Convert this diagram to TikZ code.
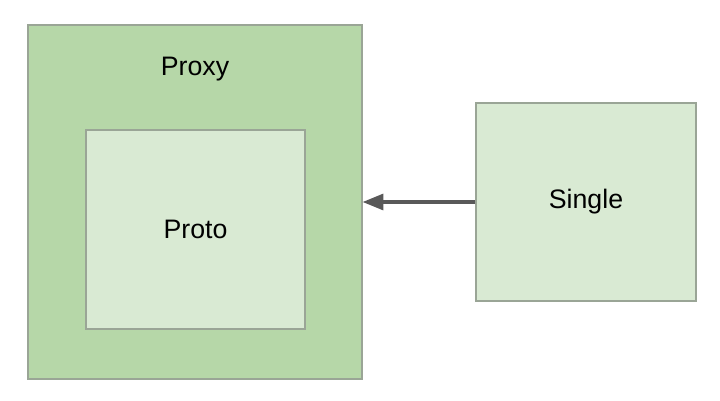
\documentclass[tikz,border=0pt]{standalone}
\usepackage{fontspec}
\setmainfont{Liberation Sans}
\usetikzlibrary{arrows.meta}
\definecolor{darkgreen}{HTML}{B6D7A8}
\definecolor{lightgreen}{HTML}{D9EAD3}
\definecolor{edgegray}{HTML}{9AA596}
\definecolor{arrowgray}{HTML}{595959}
\tikzset{
    box/.style = {draw = edgegray, line width = 0.8pt, inner sep = 0pt, font = \fontsize{19}{21}\selectfont},
    proxybox/.style = {box, fill = darkgreen, minimum width = 8.35cm, minimum height = 8.85cm},
    protobox/.style = {box, fill = lightgreen, minimum width = 5.475cm, minimum height = 4.975cm},
    singlebox/.style = {box, fill = lightgreen, minimum width = 5.5cm, minimum height = 4.95cm},
    link/.style = {draw = arrowgray, line width = 2.2pt, -{Triangle[length = 5.2mm, width = 4mm]}}
}
\begin{document}
\begin{tikzpicture}[x = 0.025cm, y = -0.025cm]
    \useasboundingbox (0,0) rectangle (720,400);
    \node[proxybox] (proxy) at (195,202) {};
    \node[anchor = base, font = \fontsize{19}{21}\selectfont] (proxylabel) at (195,76) {Proxy};
    \node[protobox] (proto) at (195.5,229.5) {Proto};
    \node[singlebox] (single) at (586,202) {Single};
    \draw[link] (single.west) -- (proxy.east);
\end{tikzpicture}
\end{document}
